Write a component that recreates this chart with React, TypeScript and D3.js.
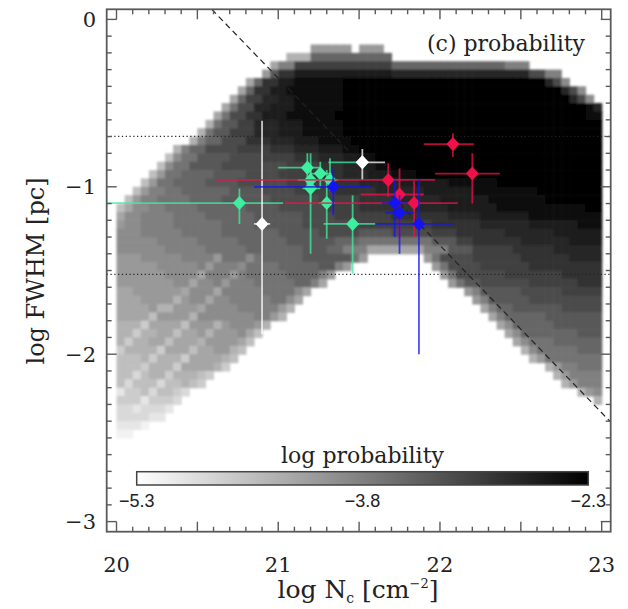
import React from "react";
import * as d3 from "d3";

// ---------------- data ----------------
const xTickValues = [20, 21, 22, 23];
const xTickLabels = ["20", "21", "22", "23"];
const yTickValues = [0, -1, -2, -3];
const yTickLabels = ["0", "\u22121", "\u22122", "\u22123"];
const colorbarTickValues = [-5.3, -3.8, -2.3];
const colorbarTickLabels = ["\u22125.3", "\u22123.8", "\u22122.3"];
const probDomain = [-5.3, -2.3];

// probability grid: 0.05 dex cells, column 0 starts at log N = 20,
// row r covers log FWHM from -0.05*r to -0.05*(r+1).
// Run-length rows "<count><level>": level a (log p = -5.3) .. u (log p = -2.3), "." = empty
const gridRowStart = 3;
const gridCell = 0.05;
const levelChars = "abcdefghijklmnopqrstu";
const gridRows = [
  "24. 5i 1. 3i 27.",
  "21. 3g 10m 26.",
  "19. 1h 2k 12p 14m 3k 9.",
  "18. 1i 1n 2q 12s 17r 2o 2k 5.",
  "16. 1h 1m 2q 2s 6t 25u 1r 1o 1j 4.",
  "15. 1h 1m 2q 2s 7t 27u 1r 1o 1j 2.",
  "14. 1h 1m 2p 2r 2s 6t 28u 1r 1o 1j 1.",
  "13. 1h 1l 2o 2r 3s 6t 30u 1t 1r",
  "12. 1h 1l 2o 2q 3s 6t 31u 2t",
  "11. 1g 1l 2n 2p 3r 3s 5t 32u",
  "10. 1g 1l 2n 3p 3r 3s 5t 32u",
  "9. 1g 1k 2m 3o 3q 3r 3s 4t 31u",
  "7. 1g 1k 2m 4o 4p 3q 3r 3s 2t 30u",
  "6. 1f 1j 2l 4n 4o 4p 3q 3r 2s 2t 28u",
  "5. 1f 1j 2l 4n 8o 4p 3q 2r 2s 2t 26u",
  "4. 1f 1i 2l 4m 4n 4o 4p 4q 3r 3s 3t 23u",
  "3. 1f 1i 2l 4m 4n 6o 6p 3q 5r 6s 6t 13u",
  "2. 1f 1i 2k 2l 6m 4n 4o 5p 5q 6r 6s 8t 8u",
  "1. 1f 1i 2k 4l 4m 6n 6o 5p 5q 5r 6s 7t 7u",
  "1f 1h 2j 2k 4l 6m 4n 6o 4p 7q 4r 6s 11t 2u",
  "1h 2j 4k 4l 6m 6n 4o 7p 7q 4r 6s 9t",
  "1i 2j 4k 6l 4m 6n 7o 9p 6q 6r 6s 3t",
  "3j 5k 5l 7m 5n 5o 4n 5o 3p 6q 6r 6s",
  "5j 5k 5l 6m 6n 3m 9l 3n 2p 6q 6r 4s",
  "6j 5k 5l 7m 3n 2m 3k 7h 3k 3n 5p 5q 6r",
  "3i 5j 5k 5l 5m 6n 1l 1i 7. 1i 1l 4o 6p 6q 4r",
  "5i 5j 5k 5l 5m 2n 1k 1i 10. 1i 1l 4o 6p 9q",
  "6i 5j 5k 5l 4m 1k 1i 13. 1i 1l 6o 7p 5q",
  "7i 5j 5k 5l 2m 1k 1h 15. 1i 1l 2n 6o 6p 3q",
  "2h 6i 5j 5k 4l 1j 1h 19. 1i 1k 5n 5o 5p",
  "3h 6i 5j 5k 2l 1j 1h 21. 1i 1k 5n 9o",
  "4h 6i 5j 5k 1i 1g 23. 1h 1k 2m 6n 5o",
  "5h 5i 7j 2k 1i 1g 25. 1h 1k 5m 7n",
  "4g 5h 5i 3j 1i 1g 28. 1h 1j 5m 6n",
  "5g 5h 5i 1j 1h 1f 30. 1h 1j 7m 3n",
  "4g 6h 5i 1h 1f 32. 1h 1j 3l 6m",
  "6g 6h 2i 1g 1f 34. 1g 1j 5l 3m",
  "3f 6g 4h 1g 1f 36. 1g 1i 7l",
  "3f 5g 4h 1g 1e 39. 1g 1i 2k 3l",
  "4f 6g 1f 1e 42. 1g 1i 4k",
  "8f 1g 1f 1e 44. 1g 1i 3k",
  "3e 4f 1e 1d 48. 1g 1i 1j",
  "7e 1d 51. 1g",
  "6d 1c 53.",
  "4d 2c 54.",
  "3c 1b 56.",
  "2b 58.",
];
// lighter diagonal streaks in the low-column-density arm: [column, row, level]
const streakCells: [number, number, string][] = [
  [0, 44, "c"], [1, 43, "d"], [2, 42, "d"], [3, 41, "e"], [4, 40, "e"], [5, 39, "e"], [6, 38, "f"], [7, 37, "f"], [8, 36, "f"],
  [9, 35, "g"], [10, 34, "h"], [11, 33, "h"], [12, 32, "h"], [13, 31, "i"], [14, 30, "i"], [15, 29, "j"], [16, 28, "j"],
  [2, 46, "c"], [3, 45, "c"], [4, 44, "d"], [5, 43, "d"], [6, 42, "e"], [7, 41, "e"], [8, 40, "e"], [9, 39, "f"],
  [10, 38, "g"], [11, 37, "g"], [12, 36, "g"],
  [0, 39, "e"], [1, 38, "e"], [2, 37, "e"], [3, 36, "e"], [4, 35, "f"], [5, 34, "g"], [6, 34, "g"], [7, 33, "g"],
  [8, 32, "h"], [9, 31, "h"], [10, 30, "h"], [11, 29, "i"], [12, 28, "i"],
];

const dottedLevels = [-0.699, -1.523];
const dashX = [20.589, 23.06];
const dashY = [0.06, -2.41];

const greenX = [20.76, 21.18, 21.26, 21.2, 21.32, 21.2, 21.3, 21.46, 21.52];
const greenY = [-1.097, -0.886, -0.921, -0.959, -0.959, -1.009, -1.097, -1.222, -0.854];
const greenXLo = [19.9, 21.0, 21.2, 21.12, 21.26, 21.15, 21.25, 21.28, 21.31];
const greenXHi = [21.03, 21.26, 21.33, 21.34, 21.37, 21.26, 21.35, 21.6, 21.52];
const greenYLo = [-1.222, -1.0, -1.0, -1.4, -1.02, -1.1, -1.31, -1.52, -0.87];
const greenYHi = [-1.01, -0.8, -0.85, -0.8, -0.83, -0.9, -0.9, -1.05, -0.84];

const whiteX = [20.9, 21.52];
const whiteY = [-1.222, -0.854];
const whiteXLo = [20.85, 21.48];
const whiteXHi = [20.95, 21.66];
const whiteYLo = [-1.88, -0.96];
const whiteYHi = [-0.605, -0.774];

const redX = [21.68, 21.75, 21.84, 22.08, 22.2];
const redY = [-0.959, -1.046, -1.097, -0.745, -0.921];
const redXLo = [20.61, 21.51, 21.04, 21.9, 21.97];
const redXHi = [21.97, 21.9, 22.11, 22.21, 22.37];
const redYLo = [-1.06, -1.3, -1.3, -0.82, -1.1];
const redYHi = [-0.86, -0.89, -0.965, -0.68, -0.8];

const blueX = [21.34, 21.72, 21.75, 21.87];
const blueY = [-1.0, -1.097, -1.155, -1.222];
const blueXLo = [20.85, 21.64, 21.66, 21.6];
const blueXHi = [21.57, 21.8, 21.84, 22.08];
const blueYLo = [-1.17, -1.3, -1.4, -2.0];
const blueYHi = [-0.89, -0.96, -1.05, -0.956];

// ---------------- layout ----------------
const W = 628;
const H = 609;
const frame = { l: 106.7, r: 610.7, t: 9.3, b: 531.7 };
const x = d3.scaleLinear().domain([20, 23]).range([116.5, 601.7]);
const y = d3.scaleLinear().domain([0, -3]).range([19.4, 521.6]);
const grey = d3.scaleLinear<string>().domain(probDomain).range(["#ffffff", "#000000"]);
const cbar = { x0: 136.7, x1: 588.3, y0: 471.7, y1: 485 };
const cbx = d3.scaleLinear().domain(probDomain).range([cbar.x0, cbar.x1]);
const axisColor = "#5a5a5a";
const serif = "'DejaVu Serif', serif";
const sans = "'Liberation Sans', Arial, sans-serif";

function parseRow(s: string): string[] {
  const out: string[] = [];
  s.trim().split(/\s+/).forEach((tok) => {
    const ch = tok[tok.length - 1];
    const n = parseInt(tok.slice(0, -1), 10);
    for (let i = 0; i < n; i++) out.push(ch);
  });
  return out;
}

type Series = { xs: number[]; ys: number[]; xlo: number[]; xhi: number[]; ylo: number[]; yhi: number[]; color: string };
const series: Series[] = [
  { xs: greenX, ys: greenY, xlo: greenXLo, xhi: greenXHi, ylo: greenYLo, yhi: greenYHi, color: "#3cf0a0" },
  { xs: whiteX, ys: whiteY, xlo: whiteXLo, xhi: whiteXHi, ylo: whiteYLo, yhi: whiteYHi, color: "#ffffff" },
  { xs: redX, ys: redY, xlo: redXLo, xhi: redXHi, ylo: redYLo, yhi: redYHi, color: "#f2104a" },
  { xs: blueX, ys: blueY, xlo: blueXLo, xhi: blueXHi, ylo: blueYLo, yhi: blueYHi, color: "#1414f2" },
];

export default function App() {
  const nLev = levelChars.length - 1;
  const grid: string[][] = gridRows.map(parseRow);
  streakCells.forEach(([c, r, ch]) => {
    const row = grid[r - gridRowStart];
    if (row && row[c] !== undefined && row[c] !== ".") row[c] = ch;
  });
  const cells: React.ReactNode[] = [];
  grid.forEach((row, i) => {
    const r = gridRowStart + i;
    row.forEach((ch, c) => {
      const k = levelChars.indexOf(ch);
      if (k < 0) return;
      const v = probDomain[0] + ((probDomain[1] - probDomain[0]) * k) / nLev;
      const x0 = 20 + c * gridCell;
      const y0 = -r * gridCell;
      const px = x(x0);
      const py = y(y0);
      cells.push(
        <rect key={`c${r}-${c}`} x={px} y={py} width={x(x0 + gridCell) - px + 0.6} height={y(y0 - gridCell) - py + 0.6} fill={grey(v)} />
      );
    });
  });

  const xMinor = d3.range(0, 31).map((i) => ({ v: 20 + i * 0.1, major: i % 5 === 0 }));
  const yMinor = d3.range(0, 31).map((i) => ({ v: -i * 0.1, major: i % 10 === 0 }));

  const diamond = (cx: number, cy: number) => `M${cx},${cy - 7}L${cx + 6.5},${cy}L${cx},${cy + 7}L${cx - 6.5},${cy}Z`;

  return (
    <svg width={W} height={H} style={{ position: "absolute", left: 0, top: 0, background: "#fff" }}>
      <defs>
        <filter id="soft" x="-5%" y="-5%" width="110%" height="110%">
          <feGaussianBlur stdDeviation="1.1" />
        </filter>
        <clipPath id="frameClip">
          <rect x={frame.l} y={frame.t} width={frame.r - frame.l} height={frame.b - frame.t} />
        </clipPath>
        <linearGradient id="cbGrad" x1="0" x2="1" y1="0" y2="0">
          <stop offset="0" stopColor={grey(probDomain[0])} />
          <stop offset="0.5" stopColor={grey((probDomain[0] + probDomain[1]) / 2)} />
          <stop offset="1" stopColor={grey(probDomain[1])} />
        </linearGradient>
      </defs>
      <rect x={0} y={0} width={W} height={H} fill="#fff" />

      <g filter="url(#soft)">{cells}</g>

      <g clipPath="url(#frameClip)">
        {dottedLevels.map((lv, i) => (
          <line key={`d${i}`} x1={frame.l} x2={frame.r} y1={y(lv)} y2={y(lv)} stroke="#222" strokeWidth={1.2} strokeDasharray="1.2,2.6" />
        ))}
        <line x1={x(dashX[0])} y1={y(dashY[0])} x2={x(dashX[1])} y2={y(dashY[1])} stroke="#222" strokeWidth={1.2} strokeDasharray="6,4" />

        {series.map((s, si) => (
          <g key={`s${si}`}>
            {s.xs.map((xv, i) => (
              <g key={`b${i}`} stroke={s.color} strokeWidth={1.8} strokeOpacity={0.75}>
                <line x1={x(s.xlo[i])} x2={x(s.xhi[i])} y1={y(s.ys[i])} y2={y(s.ys[i])} />
                <line x1={x(xv)} x2={x(xv)} y1={y(s.ylo[i])} y2={y(s.yhi[i])} />
              </g>
            ))}
            {s.xs.map((xv, i) => (
              <path key={`m${i}`} d={diamond(x(xv), y(s.ys[i]))} fill={s.color} />
            ))}
          </g>
        ))}
      </g>

      {/* frame & ticks */}
      <rect x={frame.l} y={frame.t} width={frame.r - frame.l} height={frame.b - frame.t} fill="none" stroke={axisColor} strokeWidth={1.8} />
      <g stroke={axisColor} strokeWidth={1.4}>
        {xMinor.map((t, i) => {
          const len = t.major ? 10 : 5;
          const px = x(t.v);
          return (
            <g key={`xt${i}`}>
              <line x1={px} x2={px} y1={frame.b} y2={frame.b - len} />
              <line x1={px} x2={px} y1={frame.t} y2={frame.t + len} />
            </g>
          );
        })}
        {yMinor.map((t, i) => {
          const len = t.major ? 10 : 5;
          const py = y(t.v);
          return (
            <g key={`yt${i}`}>
              <line x1={frame.l} x2={frame.l + len} y1={py} y2={py} />
              <line x1={frame.r} x2={frame.r - len} y1={py} y2={py} />
            </g>
          );
        })}
      </g>

      <g fontFamily={serif} fontSize={21} fill="#222">
        {xTickValues.map((v, i) => (
          <text key={`xl${i}`} x={x(v)} y={572} textAnchor="middle">{xTickLabels[i]}</text>
        ))}
        {yTickValues.map((v, i) => (
          <text key={`yl${i}`} x={96} y={y(v) + 7.5} textAnchor="end">{yTickLabels[i]}</text>
        ))}
      </g>

      {/* axis titles */}
      <text x={358} y={598} textAnchor="middle" fontFamily={serif} fontSize={25} fill="#222">
        log N<tspan fontSize={14} dy={5}>c</tspan>
        <tspan dy={-5}> [cm</tspan>
        <tspan fontSize={13} dy={-10}>{"\u22122"}</tspan>
        <tspan dy={10}>]</tspan>
      </text>
      <text transform="translate(44,271) rotate(-90)" textAnchor="middle" fontFamily={serif} fontSize={24} fill="#222">
        log FWHM [pc]
      </text>

      <text x={585} y={51} textAnchor="end" fontFamily={serif} fontSize={22} fill="#222">(c) probability</text>

      {/* colorbar */}
      <text x={cbx(-3.8)} y={463} textAnchor="middle" fontFamily={serif} fontSize={22} fill="#222">log probability</text>
      <rect x={cbar.x0} y={cbar.y0} width={cbar.x1 - cbar.x0} height={cbar.y1 - cbar.y0} fill="url(#cbGrad)" stroke="#444" strokeWidth={1.5} />
      <g fontFamily={sans} fontSize={18} fill="#222">
        {colorbarTickValues.map((v, i) => (
          <text key={`cb${i}`} x={cbx(v)} y={507} textAnchor="middle">{colorbarTickLabels[i]}</text>
        ))}
      </g>
    </svg>
  );
}
